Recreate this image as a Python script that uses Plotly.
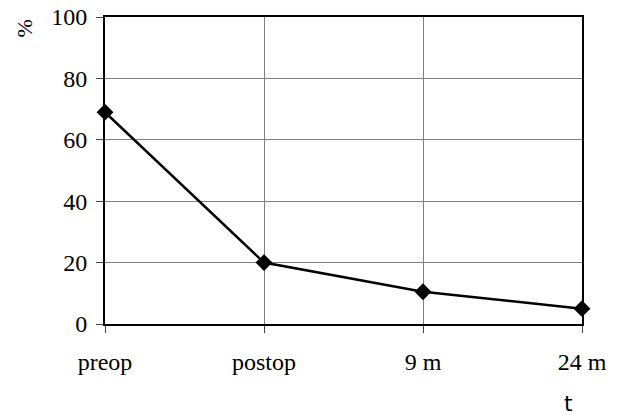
import plotly.graph_objects as go

categories = ["preop", "postop", "9 m", "24 m"]
values = [69, 20, 10.5, 5]
y_ticks = [0, 20, 40, 60, 80, 100]

font_family = "Liberation Serif, Times New Roman, serif"

fig = go.Figure()
fig.add_trace(go.Scatter(
    x=categories, y=values, mode="lines+markers",
    line=dict(color="black", width=2.5),
    marker=dict(symbol="diamond", size=13, color="black"),
    cliponaxis=False, showlegend=False,
))

fig.update_layout(
    width=618, height=415,
    margin=dict(l=105, r=36, t=17, b=91, autoexpand=False),
    paper_bgcolor="white", plot_bgcolor="white",
    font=dict(family=font_family, size=24, color="black"),
    xaxis=dict(
        type="category", range=[0, 3], automargin=False,
        showgrid=True, gridcolor="#808080", gridwidth=1,
        showline=True, linecolor="black", linewidth=2, mirror=True,
        ticks="outside", ticklen=7, tickcolor="#444", tickwidth=1,
        ticklabelstandoff=8,
        zeroline=False,
    ),
    yaxis=dict(
        range=[0, 100], tickvals=y_ticks, automargin=False,
        showgrid=True, gridcolor="#808080", gridwidth=1,
        showline=True, linecolor="black", linewidth=2, mirror=True,
        ticks="outside", ticklen=7, tickcolor="#444", tickwidth=1,
        ticklabelstandoff=4,
        zeroline=False,
    ),
    annotations=[
        dict(text="%", xref="paper", yref="paper", x=-0.168, y=0.962,
             xanchor="center", yanchor="middle",
             showarrow=False, textangle=-90, font=dict(size=22)),
        dict(text="t", xref="paper", yref="paper", x=0.971, y=-0.26,
             xanchor="center", yanchor="middle",
             showarrow=False, font=dict(size=22, family="DejaVu Sans")),
    ],
)

fig.write_html("out.html", config={"displayModeBar": False},
               post_script="document.body.style.margin='0';")
